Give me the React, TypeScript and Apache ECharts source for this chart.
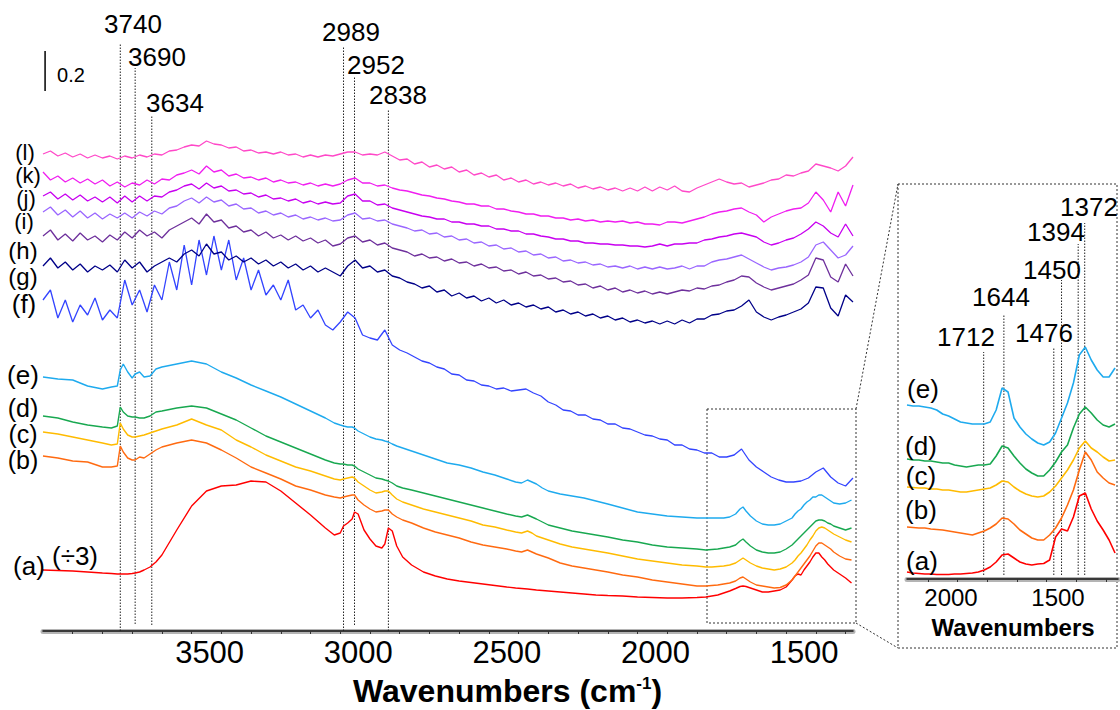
import { useEffect, useRef } from "react";
import * as echarts from "echarts";

const FONT = "'Liberation Sans', Arial, Helvetica, sans-serif";

// ---------- main panel: wavenumber grids ----------
const NOISY_X = [
  4000, 3975, 3950, 3925, 3900, 3875, 3850, 3825, 3800, 3775,
  3750, 3725, 3700, 3675, 3650, 3625, 3600, 3575, 3550, 3525,
  3500, 3475, 3450, 3425, 3400, 3375, 3350, 3325, 3300, 3275,
  3250, 3225, 3200, 3175, 3150, 3125, 3100, 3075, 3050, 3025,
  3000, 2975, 2950, 2925, 2900, 2875, 2850, 2825, 2800, 2775,
  2750, 2725, 2700, 2675, 2650, 2625, 2600, 2575, 2550, 2525,
  2500, 2475, 2450, 2425, 2400, 2375, 2350, 2325, 2300, 2275,
  2250, 2225, 2200, 2175, 2150, 2125, 2100, 2075, 2050, 2025,
  2000, 1975, 1950, 1925, 1900, 1875, 1850, 1825, 1800, 1775,
  1750, 1725, 1700, 1675, 1650, 1625, 1600, 1575, 1550, 1525,
  1500, 1475, 1450, 1425, 1400, 1375, 1350, 1325, 1300, 1275,
];

const SMOOTH_X = [
  4000, 3950, 3900, 3850, 3800, 3770, 3750, 3740, 3730, 3715,
  3700, 3690, 3675, 3660, 3640, 3620, 3600, 3550, 3500, 3450,
  3400, 3350, 3300, 3250, 3200, 3150, 3100, 3050, 3020, 3000,
  2989, 2975, 2960, 2952, 2940, 2920, 2900, 2880, 2860, 2850,
  2838, 2825, 2810, 2790, 2760, 2720, 2680, 2640, 2600, 2560,
  2520, 2480, 2440, 2410, 2390, 2370, 2355, 2340, 2320, 2300,
  2260, 2220, 2180, 2140, 2100, 2050, 2000, 1950, 1900, 1850,
  1800, 1770, 1750, 1730, 1710, 1690, 1670, 1655, 1645, 1635,
  1620, 1600, 1580, 1560, 1540, 1520, 1500, 1480, 1470, 1460,
  1450, 1440, 1430, 1420, 1410, 1400, 1390, 1380, 1370, 1360,
  1350, 1340, 1320, 1300, 1280,
];

// ---------- main panel: spectra (absorbance, stacked) ----------
const SPEC_A = [
  0.305, 0.3025, 0.30, 0.295, 0.29, 0.2875, 0.285, 0.285, 0.285, 0.285,
  0.2875, 0.29, 0.295, 0.305, 0.32, 0.345, 0.38, 0.505, 0.625, 0.70,
  0.725, 0.73, 0.75, 0.745, 0.70, 0.64, 0.58, 0.515, 0.48, 0.49,
  0.525, 0.54, 0.56, 0.595, 0.585, 0.505, 0.46, 0.425, 0.415, 0.435,
  0.515, 0.50, 0.425, 0.37, 0.33, 0.295, 0.275, 0.26, 0.25, 0.2425,
  0.235, 0.2275, 0.22, 0.215, 0.2125, 0.21, 0.2075, 0.205, 0.2025, 0.20,
  0.195, 0.19, 0.185, 0.18, 0.1775, 0.175, 0.17, 0.1675, 0.165, 0.165,
  0.1675, 0.17, 0.175, 0.18, 0.19, 0.20, 0.2125, 0.2225, 0.225, 0.2225,
  0.215, 0.205, 0.195, 0.195, 0.20, 0.205, 0.22, 0.255, 0.275, 0.285,
  0.28, 0.305, 0.325, 0.345, 0.37, 0.39, 0.39, 0.37, 0.355, 0.335,
  0.32, 0.305, 0.285, 0.265, 0.24,
];
const SPEC_B = [
  0.875, 0.865, 0.85, 0.845, 0.82, 0.82, 0.825, 0.925, 0.895, 0.865,
  0.855, 0.855, 0.87, 0.865, 0.885, 0.905, 0.92, 0.94, 0.955, 0.94,
  0.905, 0.865, 0.82, 0.79, 0.76, 0.725, 0.705, 0.68, 0.67, 0.665,
  0.67, 0.675, 0.68, 0.68, 0.655, 0.63, 0.61, 0.595, 0.60, 0.605,
  0.605, 0.585, 0.57, 0.555, 0.54, 0.515, 0.495, 0.48, 0.465, 0.445,
  0.43, 0.42, 0.41, 0.40, 0.395, 0.405, 0.395, 0.385, 0.375, 0.365,
  0.34, 0.325, 0.315, 0.305, 0.295, 0.28, 0.27, 0.255, 0.245, 0.235,
  0.225, 0.225, 0.2275, 0.23, 0.235, 0.24, 0.25, 0.265, 0.27, 0.26,
  0.245, 0.23, 0.225, 0.22, 0.215, 0.2175, 0.23, 0.255, 0.275, 0.295,
  0.315, 0.335, 0.355, 0.375, 0.40, 0.425, 0.44, 0.44, 0.43, 0.42,
  0.41, 0.395, 0.375, 0.36, 0.355,
];
const SPEC_C = [
  0.995, 0.985, 0.97, 0.955, 0.94, 0.93, 0.935, 1.04, 1.01, 0.98,
  0.97, 0.97, 0.975, 0.98, 0.99, 1.00, 1.01, 1.03, 1.06, 1.03,
  1.005, 0.955, 0.92, 0.88, 0.85, 0.82, 0.80, 0.775, 0.76, 0.755,
  0.76, 0.765, 0.77, 0.765, 0.745, 0.725, 0.705, 0.69, 0.695, 0.70,
  0.70, 0.68, 0.66, 0.645, 0.63, 0.61, 0.595, 0.58, 0.565, 0.55,
  0.53, 0.52, 0.505, 0.495, 0.49, 0.50, 0.49, 0.475, 0.465, 0.455,
  0.435, 0.42, 0.41, 0.40, 0.39, 0.375, 0.36, 0.35, 0.34, 0.33,
  0.325, 0.32, 0.32, 0.3225, 0.325, 0.33, 0.34, 0.355, 0.365, 0.355,
  0.34, 0.325, 0.315, 0.31, 0.305, 0.31, 0.32, 0.34, 0.355, 0.375,
  0.39, 0.41, 0.43, 0.455, 0.475, 0.50, 0.515, 0.52, 0.515, 0.505,
  0.495, 0.485, 0.47, 0.455, 0.445,
];
const SPEC_D = [
  1.075, 1.065, 1.045, 1.03, 1.02, 1.015, 1.025, 1.12, 1.095, 1.075,
  1.07, 1.07, 1.065, 1.065, 1.075, 1.095, 1.10, 1.115, 1.125, 1.115,
  1.085, 1.055, 1.015, 0.975, 0.945, 0.915, 0.885, 0.855, 0.84, 0.835,
  0.835, 0.83, 0.83, 0.825, 0.81, 0.795, 0.78, 0.765, 0.76, 0.755,
  0.75, 0.74, 0.725, 0.715, 0.705, 0.69, 0.675, 0.66, 0.645, 0.63,
  0.615, 0.60, 0.585, 0.575, 0.57, 0.58, 0.57, 0.56, 0.545, 0.53,
  0.515, 0.50, 0.49, 0.48, 0.47, 0.455, 0.445, 0.43, 0.42, 0.415,
  0.41, 0.405, 0.4075, 0.41, 0.415, 0.42, 0.43, 0.45, 0.46, 0.445,
  0.425, 0.405, 0.395, 0.39, 0.39, 0.395, 0.41, 0.43, 0.445, 0.46,
  0.475, 0.49, 0.505, 0.52, 0.535, 0.55, 0.555, 0.555, 0.55, 0.54,
  0.535, 0.525, 0.515, 0.505, 0.515,
];
const SPEC_E = [
  1.27, 1.26, 1.255, 1.225, 1.21, 1.22, 1.225, 1.305, 1.335, 1.295,
  1.265, 1.285, 1.295, 1.27, 1.275, 1.31, 1.32, 1.335, 1.35, 1.335,
  1.295, 1.265, 1.23, 1.20, 1.17, 1.135, 1.10, 1.065, 1.04, 1.03,
  1.025, 1.02, 1.02, 1.015, 1.00, 0.985, 0.97, 0.96, 0.955, 0.95,
  0.945, 0.935, 0.925, 0.915, 0.90, 0.88, 0.86, 0.84, 0.83, 0.815,
  0.795, 0.78, 0.76, 0.745, 0.74, 0.755, 0.745, 0.735, 0.715, 0.70,
  0.685, 0.675, 0.665, 0.65, 0.635, 0.615, 0.595, 0.585, 0.575, 0.57,
  0.565, 0.565, 0.565, 0.565, 0.565, 0.57, 0.585, 0.61, 0.62, 0.60,
  0.575, 0.55, 0.535, 0.53, 0.53, 0.535, 0.55, 0.565, 0.585, 0.60,
  0.61, 0.63, 0.645, 0.655, 0.67, 0.67, 0.68, 0.68, 0.67, 0.66,
  0.65, 0.64, 0.635, 0.64, 0.655,
];
const SPEC_F = [
  1.655, 1.705, 1.565, 1.655, 1.545, 1.63, 1.58, 1.665, 1.555, 1.605,
  1.565, 1.755, 1.63, 1.705, 1.595, 1.73, 1.655, 1.845, 1.705, 1.93,
  1.73, 1.955, 1.78, 1.975, 1.805, 1.955, 1.755, 1.865, 1.705, 1.805,
  1.68, 1.73, 1.655, 1.755, 1.605, 1.63, 1.565, 1.605, 1.53, 1.505,
  1.545, 1.595, 1.565, 1.48, 1.465, 1.455, 1.505, 1.43, 1.405, 1.39,
  1.37, 1.35, 1.34, 1.32, 1.31, 1.285, 1.28, 1.255, 1.25, 1.23,
  1.225, 1.21, 1.215, 1.20, 1.205, 1.21, 1.19, 1.175, 1.145, 1.13,
  1.105, 1.10, 1.08, 1.08, 1.06, 1.055, 1.035, 1.035, 1.015, 1.01,
  0.995, 0.98, 0.975, 0.96, 0.955, 0.93, 0.93, 0.91, 0.905, 0.89,
  0.89, 0.87, 0.87, 0.88, 0.91, 0.855, 0.82, 0.795, 0.77, 0.755,
  0.745, 0.745, 0.75, 0.765, 0.795, 0.815, 0.77, 0.74, 0.725, 0.765,
];
const SPEC_G = [
  1.825, 1.865, 1.815, 1.845, 1.805, 1.835, 1.795, 1.825, 1.805, 1.83,
  1.795, 1.855, 1.815, 1.845, 1.795, 1.825, 1.845, 1.865, 1.845, 1.885,
  1.905, 1.875, 1.935, 1.885, 1.895, 1.855, 1.875, 1.845, 1.865, 1.835,
  1.855, 1.825, 1.845, 1.815, 1.835, 1.805, 1.825, 1.795, 1.815, 1.795,
  1.775, 1.825, 1.855, 1.815, 1.825, 1.795, 1.805, 1.775, 1.765, 1.745,
  1.735, 1.715, 1.725, 1.695, 1.705, 1.675, 1.69, 1.665, 1.675, 1.65,
  1.665, 1.64, 1.655, 1.63, 1.64, 1.62, 1.63, 1.61, 1.62, 1.595,
  1.605, 1.585, 1.595, 1.575, 1.585, 1.565, 1.575, 1.555, 1.565, 1.545,
  1.555, 1.54, 1.55, 1.535, 1.55, 1.535, 1.555, 1.54, 1.56, 1.56,
  1.58, 1.585, 1.60, 1.605, 1.625, 1.655, 1.595, 1.57, 1.555, 1.57,
  1.58, 1.595, 1.61, 1.64, 1.72, 1.715, 1.615, 1.575, 1.68, 1.645,
];
const SPEC_H = [
  1.975, 2.005, 1.955, 1.985, 1.95, 1.99, 1.955, 1.975, 1.945, 1.98,
  1.955, 1.995, 1.965, 2.005, 1.975, 1.995, 1.965, 2.005, 2.025, 2.045,
  2.065, 2.035, 2.085, 2.045, 2.055, 2.015, 2.025, 1.995, 2.005, 1.975,
  1.995, 1.965, 1.98, 1.955, 1.975, 1.95, 1.965, 1.94, 1.955, 1.925,
  1.935, 1.965, 1.975, 1.945, 1.955, 1.93, 1.94, 1.915, 1.905, 1.895,
  1.875, 1.885, 1.865, 1.87, 1.85, 1.86, 1.84, 1.845, 1.825, 1.835,
  1.815, 1.82, 1.80, 1.805, 1.785, 1.795, 1.775, 1.78, 1.76, 1.765,
  1.745, 1.75, 1.73, 1.735, 1.715, 1.725, 1.705, 1.715, 1.695, 1.705,
  1.69, 1.70, 1.685, 1.695, 1.685, 1.695, 1.705, 1.70, 1.715, 1.71,
  1.725, 1.73, 1.745, 1.755, 1.775, 1.77, 1.74, 1.72, 1.705, 1.715,
  1.725, 1.735, 1.755, 1.78, 1.865, 1.855, 1.77, 1.745, 1.835, 1.775,
];
const SPEC_I = [
  2.095, 2.12, 2.08, 2.105, 2.07, 2.10, 2.065, 2.09, 2.06, 2.085,
  2.065, 2.09, 2.065, 2.095, 2.075, 2.10, 2.085, 2.115, 2.125, 2.15,
  2.165, 2.14, 2.17, 2.145, 2.155, 2.125, 2.135, 2.11, 2.115, 2.09,
  2.10, 2.08, 2.09, 2.07, 2.08, 2.06, 2.07, 2.055, 2.065, 2.05,
  2.055, 2.08, 2.09, 2.06, 2.065, 2.05, 2.055, 2.035, 2.025, 2.015,
  2.00, 2.005, 1.985, 1.99, 1.97, 1.975, 1.955, 1.96, 1.94, 1.945,
  1.925, 1.93, 1.91, 1.915, 1.895, 1.90, 1.88, 1.885, 1.865, 1.87,
  1.85, 1.855, 1.84, 1.845, 1.83, 1.835, 1.82, 1.825, 1.815, 1.825,
  1.81, 1.82, 1.81, 1.82, 1.81, 1.815, 1.825, 1.81, 1.825, 1.825,
  1.845, 1.855, 1.86, 1.87, 1.88, 1.86, 1.84, 1.82, 1.805, 1.815,
  1.82, 1.83, 1.845, 1.87, 1.93, 1.945, 1.905, 1.865, 1.88, 1.925,
];
const SPEC_J = [
  2.175, 2.195, 2.16, 2.185, 2.155, 2.18, 2.15, 2.17, 2.145, 2.17,
  2.14, 2.175, 2.145, 2.175, 2.15, 2.175, 2.17, 2.195, 2.205, 2.225,
  2.235, 2.21, 2.24, 2.215, 2.225, 2.20, 2.205, 2.185, 2.19, 2.17,
  2.18, 2.16, 2.165, 2.15, 2.16, 2.14, 2.15, 2.135, 2.145, 2.135,
  2.14, 2.175, 2.185, 2.15, 2.15, 2.13, 2.135, 2.115, 2.105, 2.095,
  2.085, 2.075, 2.07, 2.06, 2.06, 2.045, 2.045, 2.035, 2.035, 2.025,
  2.025, 2.01, 2.01, 2.00, 2.00, 1.985, 1.985, 1.975, 1.97, 1.96,
  1.96, 1.95, 1.95, 1.94, 1.94, 1.935, 1.935, 1.93, 1.93, 1.925,
  1.925, 1.92, 1.925, 1.935, 1.925, 1.935, 1.935, 1.94, 1.94, 1.955,
  1.96, 1.97, 1.975, 1.985, 1.99, 1.98, 1.97, 1.945, 1.93, 1.94,
  1.955, 1.965, 1.985, 2.01, 2.045, 2.025, 1.99, 1.97, 2.035, 1.975,
];
const SPEC_K = [
  2.295, 2.255, 2.275, 2.245, 2.265, 2.24, 2.26, 2.235, 2.255, 2.225,
  2.245, 2.22, 2.24, 2.23, 2.255, 2.235, 2.26, 2.255, 2.28, 2.29,
  2.305, 2.285, 2.325, 2.295, 2.305, 2.275, 2.285, 2.265, 2.27, 2.255,
  2.265, 2.245, 2.255, 2.24, 2.245, 2.23, 2.24, 2.225, 2.235, 2.225,
  2.235, 2.255, 2.265, 2.24, 2.24, 2.225, 2.23, 2.215, 2.205, 2.20,
  2.19, 2.18, 2.175, 2.165, 2.16, 2.15, 2.145, 2.135, 2.135, 2.125,
  2.125, 2.11, 2.11, 2.10, 2.095, 2.085, 2.085, 2.075, 2.075, 2.065,
  2.065, 2.055, 2.06, 2.05, 2.055, 2.045, 2.05, 2.045, 2.05, 2.04,
  2.045, 2.035, 2.035, 2.03, 2.045, 2.045, 2.04, 2.05, 2.06, 2.07,
  2.085, 2.095, 2.10, 2.11, 2.115, 2.095, 2.08, 2.045, 2.07, 2.085,
  2.10, 2.11, 2.115, 2.14, 2.195, 2.155, 2.095, 2.195, 2.125, 2.23,
];
const SPEC_L = [
  2.385, 2.40, 2.375, 2.39, 2.37, 2.385, 2.365, 2.38, 2.365, 2.375,
  2.36, 2.375, 2.365, 2.38, 2.37, 2.385, 2.38, 2.40, 2.405, 2.42,
  2.43, 2.425, 2.45, 2.435, 2.43, 2.415, 2.42, 2.40, 2.405, 2.39,
  2.395, 2.385, 2.395, 2.38, 2.385, 2.37, 2.38, 2.37, 2.38, 2.375,
  2.385, 2.395, 2.395, 2.38, 2.385, 2.38, 2.395, 2.375, 2.355, 2.36,
  2.335, 2.345, 2.32, 2.33, 2.31, 2.32, 2.295, 2.305, 2.28, 2.29,
  2.27, 2.28, 2.255, 2.265, 2.245, 2.255, 2.235, 2.245, 2.23, 2.24,
  2.225, 2.235, 2.215, 2.225, 2.21, 2.22, 2.205, 2.215, 2.20, 2.215,
  2.20, 2.22, 2.20, 2.22, 2.205, 2.225, 2.20, 2.195, 2.215, 2.23,
  2.245, 2.26, 2.245, 2.235, 2.24, 2.22, 2.23, 2.24, 2.255, 2.26,
  2.28, 2.275, 2.29, 2.30, 2.335, 2.325, 2.315, 2.30, 2.325, 2.37,
];

// ---------- inset panel (1970 - 1270 cm-1) ----------
const INSET_X = [
  1970, 1950, 1930, 1910, 1890, 1870, 1850, 1830, 1810, 1790,
  1770, 1750, 1730, 1710, 1690, 1670, 1650, 1630, 1610, 1590,
  1570, 1550, 1530, 1510, 1490, 1470, 1450, 1430, 1410, 1390,
  1370, 1350, 1330, 1310, 1290, 1270,
];
const INSET_A = [
  0.035, 0.03, 0.0275, 0.025, 0.025, 0.0225, 0.0225, 0.0225, 0.025, 0.025,
  0.0275, 0.03, 0.035, 0.045, 0.06, 0.085, 0.12, 0.125, 0.105, 0.085,
  0.075, 0.07, 0.075, 0.0775, 0.095, 0.21, 0.25, 0.24, 0.31, 0.415,
  0.43, 0.35, 0.29, 0.245, 0.195, 0.13,
];
const INSET_B = [
  0.26, 0.2575, 0.255, 0.255, 0.25, 0.2475, 0.245, 0.24, 0.235, 0.23,
  0.225, 0.22, 0.23, 0.24, 0.255, 0.275, 0.305, 0.30, 0.275, 0.245,
  0.225, 0.205, 0.195, 0.195, 0.22, 0.255, 0.305, 0.37, 0.445, 0.545,
  0.635, 0.595, 0.535, 0.505, 0.48, 0.47,
];
const INSET_C = [
  0.46, 0.4575, 0.455, 0.455, 0.45, 0.45, 0.445, 0.445, 0.44, 0.435,
  0.435, 0.44, 0.445, 0.45, 0.455, 0.47, 0.49, 0.485, 0.46, 0.44,
  0.425, 0.415, 0.41, 0.415, 0.435, 0.465, 0.505, 0.545, 0.595, 0.655,
  0.69, 0.655, 0.635, 0.61, 0.59, 0.595,
];
const INSET_D = [
  0.60, 0.595, 0.595, 0.59, 0.59, 0.585, 0.58, 0.58, 0.57, 0.565,
  0.56, 0.565, 0.57, 0.57, 0.575, 0.615, 0.665, 0.655, 0.615, 0.58,
  0.55, 0.53, 0.515, 0.515, 0.545, 0.585, 0.635, 0.67, 0.755, 0.825,
  0.86, 0.83, 0.795, 0.77, 0.76, 0.775,
];
const INSET_E = [
  0.87, 0.865, 0.865, 0.86, 0.855, 0.845, 0.825, 0.815, 0.80, 0.785,
  0.78, 0.775, 0.775, 0.775, 0.785, 0.845, 0.955, 0.935, 0.805, 0.76,
  0.725, 0.70, 0.68, 0.67, 0.685, 0.73, 0.805, 0.88, 0.98, 1.12,
  1.16, 1.095, 1.045, 1.01, 1.01, 1.055,
];

// ---------- axes ----------
const MAIN_TICKS = [
  3900, 3800, 3700, 3600, 3500, 3400, 3300, 3200, 3100, 3000,
  2900, 2800, 2700, 2600, 2500, 2400, 2300, 2200, 2100, 2000,
  1900, 1800, 1700, 1600, 1500, 1400, 1300,
];
const MAIN_LABELS = [3500, 3000, 2500, 2000, 1500];
const INSET_TICKS = [1900, 1800, 1700, 1600, 1500, 1400, 1300];

// peak markers: wavenumber, dotted line from `lo` to `hi` absorbance
const MAIN_PEAKS = [3740, 3690, 3634, 2989, 2952, 2838];
const MAIN_PEAK_HI = [2.94, 2.815, 2.58, 2.925, 2.77, 2.605];
const MAIN_PEAK_LO = [0, 0.035, 0.03, 0, 0.03, 0];
const INSET_PEAKS = [1712, 1644, 1476, 1450, 1394, 1372];
const INSET_PEAK_HI = [1.135, 1.32, 1.16, 1.495, 1.675, 1.78];

const SCALE_BAR = [[3993, 2.9], [3993, 2.7]];

const COLORS = {
  a: "#ff0000", b: "#ff6a10", c: "#ffbb00", d: "#18a850", e: "#1eaaee",
  f: "#3344ff", g: "#000088", h: "#6e309c", i: "#9a66ff", j: "#c800f0",
  k: "#f01ef0", l: "#ff48c8",
};

function pairs(xs: number[], ys: number[]) {
  return xs.map((x, i) => [x, ys[i]]);
}

function spectrum(name: string, xs: number[], ys: number[], color: string, width: number, grid: number) {
  return {
    type: "line", name, data: pairs(xs, ys),
    xAxisIndex: grid === 0 ? 1 : 3, yAxisIndex: grid,
    symbol: "none", showSymbol: false, silent: true, z: 4,
    lineStyle: { color, width },
  };
}

function vline(wn: number, lo: number, hi: number, grid: number) {
  return {
    type: "line", data: [[wn, lo], [wn, hi]],
    xAxisIndex: grid === 0 ? 1 : 3, yAxisIndex: grid,
    symbol: "none", showSymbol: false, silent: true, z: 3,
    lineStyle: { color: "#222", width: 1, type: [1.5, 1.5] },
  };
}

function txt(x: number, y: number, text: string, size: number, extra: any = {}) {
  return {
    type: "text", x, y, silent: true, z: 10,
    style: {
      text, fontSize: size, fontFamily: FONT, fill: "#000",
      align: "center", verticalAlign: "middle", ...extra,
    },
  };
}

const dotted = { fill: "none", stroke: "#333", lineWidth: 1, lineDash: [2, 2] };

export default function App() {
  const ref = useRef<HTMLDivElement>(null);

  useEffect(() => {
    if (!ref.current) return;
    const chart = echarts.init(ref.current, undefined, { renderer: "svg" });

    const series: any[] = [
      spectrum("(a)", SMOOTH_X, SPEC_A, COLORS.a, 1.4, 0),
      spectrum("(b)", SMOOTH_X, SPEC_B, COLORS.b, 1.4, 0),
      spectrum("(c)", SMOOTH_X, SPEC_C, COLORS.c, 1.4, 0),
      spectrum("(d)", SMOOTH_X, SPEC_D, COLORS.d, 1.4, 0),
      spectrum("(e)", SMOOTH_X, SPEC_E, COLORS.e, 1.4, 0),
      spectrum("(f)", NOISY_X, SPEC_F, COLORS.f, 1.3, 0),
      spectrum("(g)", NOISY_X, SPEC_G, COLORS.g, 1.3, 0),
      spectrum("(h)", NOISY_X, SPEC_H, COLORS.h, 1.3, 0),
      spectrum("(i)", NOISY_X, SPEC_I, COLORS.i, 1.3, 0),
      spectrum("(j)", NOISY_X, SPEC_J, COLORS.j, 1.3, 0),
      spectrum("(k)", NOISY_X, SPEC_K, COLORS.k, 1.3, 0),
      spectrum("(l)", NOISY_X, SPEC_L, COLORS.l, 1.3, 0),
      spectrum("inset (a)", INSET_X, INSET_A, COLORS.a, 1.6, 1),
      spectrum("inset (b)", INSET_X, INSET_B, COLORS.b, 1.6, 1),
      spectrum("inset (c)", INSET_X, INSET_C, COLORS.c, 1.6, 1),
      spectrum("inset (d)", INSET_X, INSET_D, COLORS.d, 1.6, 1),
      spectrum("inset (e)", INSET_X, INSET_E, COLORS.e, 1.6, 1),
      {
        type: "line", data: SCALE_BAR, xAxisIndex: 1, yAxisIndex: 0,
        symbol: "none", silent: true, lineStyle: { color: "#000", width: 1.5 },
      },
    ];
    MAIN_PEAKS.forEach((wn, i) => series.push(vline(wn, MAIN_PEAK_LO[i], MAIN_PEAK_HI[i], 0)));
    INSET_PEAKS.forEach((wn, i) => series.push(vline(wn, 0.02, INSET_PEAK_HI[i], 1)));

    const baseAxis = (grid: number, min: number, max: number) => ({
      type: "value", gridIndex: grid, inverse: true, min, max,
      position: "bottom", splitLine: { show: false },
    });

    const graphic: any[] = [
      // zoom box & connectors
      { type: "rect", silent: true, shape: { x: 707, y: 409, width: 149, height: 214 }, style: dotted },
      { type: "rect", silent: true, shape: { x: 898, y: 184, width: 219, height: 464 }, style: dotted },
      { type: "line", silent: true, shape: { x1: 856, y1: 409, x2: 898, y2: 184 }, style: dotted },
      { type: "line", silent: true, shape: { x1: 856, y1: 623, x2: 898, y2: 648 }, style: dotted },
      // curve labels, main
      txt(25, 152, "(l)", 22), txt(28, 175, "(k)", 22), txt(26, 198, "(j)", 22),
      txt(24, 221, "(i)", 22), txt(23, 250, "(h)", 24), txt(23, 276, "(g)", 24),
      txt(24, 304, "(f)", 26), txt(23, 375, "(e)", 26), txt(23, 408, "(d)", 25),
      txt(23, 434, "(c)", 25), txt(23, 460, "(b)", 25), txt(29, 566, "(a)", 26),
      txt(75, 556, "(÷3)", 26),
      // peak labels, main
      txt(133, 24, "3740", 26), txt(157, 57, "3690", 26), txt(175, 103, "3634", 26),
      txt(351, 32, "2989", 26), txt(376, 65, "2952", 26), txt(398, 95, "2838", 26),
      txt(71, 75, "0.2", 20),
      // main axis title
      {
        type: "text", x: 353, y: 691, silent: true, z: 10,
        style: {
          text: "{a|Wavenumbers (cm}{s|-1}{a|)}",
          align: "left", verticalAlign: "middle", fill: "#000",
          rich: {
            a: { fontSize: 32, fontWeight: "bold", fontFamily: FONT, fill: "#000" },
            s: { fontSize: 17, fontWeight: "bold", fontFamily: FONT, fill: "#000", verticalAlign: "top" },
          },
        },
      },
      // inset texts
      txt(1089, 207, "1372", 26), txt(1056, 232, "1394", 26), txt(1052, 270, "1450", 26),
      txt(1001, 297, "1644", 26), txt(966, 337, "1712", 26), txt(1044, 333, "1476", 26),
      txt(923, 389, "(e)", 26), txt(921, 446, "(d)", 26), txt(921, 476, "(c)", 26),
      txt(921, 510, "(b)", 26), txt(922, 561, "(a)", 26),
      txt(951, 597, "2000", 24), txt(1058, 597, "1500", 24),
      txt(1013, 627, "Wavenumbers", 24, { fontWeight: "bold" }),
    ];

    chart.setOption({
      animation: false,
      backgroundColor: "#ffffff",
      grid: [
        { left: 43, right: 267, top: 11, bottom: 79, containLabel: false, outerBoundsMode: "none" },
        { left: 907, right: 2, top: 179, bottom: 131, containLabel: false, outerBoundsMode: "none" },
      ],
      xAxis: [
        {
          ...baseAxis(0, 1275, 4000),
          axisLine: { onZero: false, lineStyle: { color: "#b4b4b4", width: 5 } },
          axisTick: { show: false }, axisLabel: { show: false },
        },
        {
          ...baseAxis(0, 1275, 4000),
          axisLine: { onZero: false, lineStyle: { color: "#111", width: 1.5 } },
          axisTick: { customValues: MAIN_TICKS, length: 3, lineStyle: { color: "#333", width: 1 } },
          axisLabel: {
            customValues: MAIN_LABELS, fontSize: 31, color: "#000", fontFamily: FONT,
            margin: 6, padding: [0, 0, 0, 36],
            formatter: (v: number) => String(v),
          },
        },
        {
          ...baseAxis(1, 1260, 1970),
          axisLine: { onZero: false, lineStyle: { color: "#b4b4b4", width: 5 } },
          axisTick: { show: false }, axisLabel: { show: false },
        },
        {
          ...baseAxis(1, 1260, 1970),
          axisLine: { onZero: false, lineStyle: { color: "#111", width: 1.5 } },
          axisTick: { customValues: INSET_TICKS, length: 3, lineStyle: { color: "#333", width: 1 } },
          axisLabel: { show: false },
        },
      ],
      yAxis: [
        { type: "value", gridIndex: 0, min: 0, max: 3.1, show: false },
        { type: "value", gridIndex: 1, min: 0, max: 2, show: false },
      ],
      series,
      graphic,
    });

    return () => chart.dispose();
  }, []);

  return (
    <div
      ref={ref}
      style={{ position: "absolute", left: 0, top: 0, width: 1120, height: 710, background: "#fff" }}
    />
  );
}
